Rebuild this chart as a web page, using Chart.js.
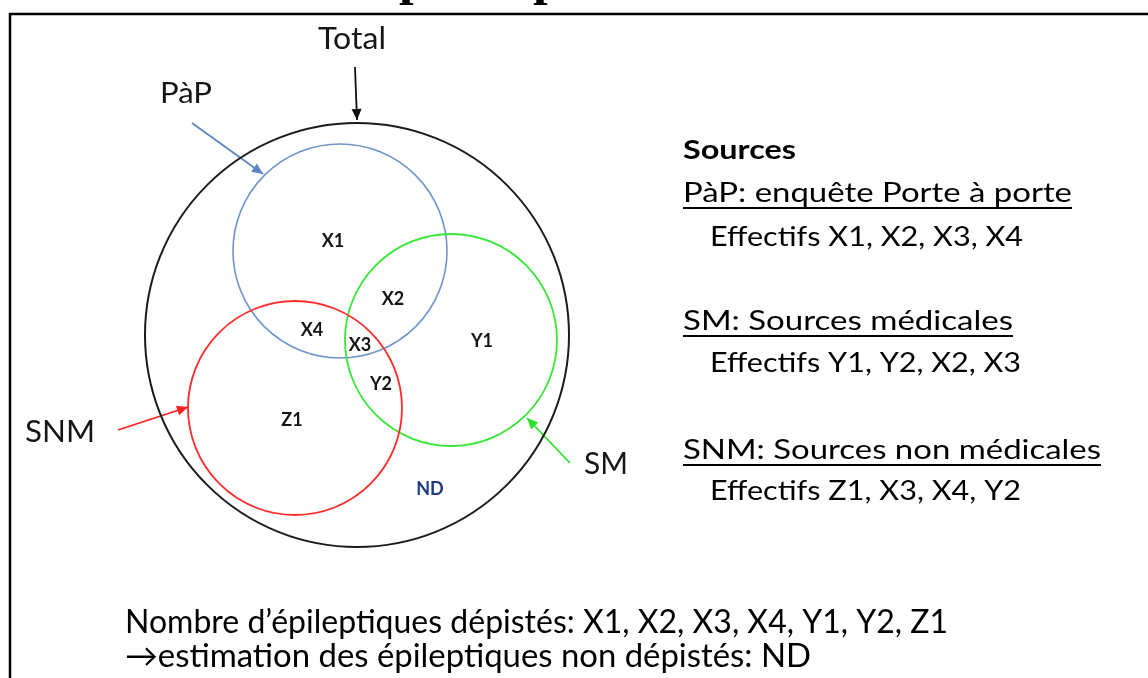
<!DOCTYPE html>
<html>
<head>
<meta charset="utf-8">
<script src="https://cdn.jsdelivr.net/npm/chart.js@4.4.0/dist/chart.umd.min.js"></script>
<style>
  html, body { margin: 0; padding: 0; background: #fff; }
  #wrap { width: 1148px; height: 678px; }
</style>
</head>
<body>
<div id="wrap"><canvas id="vennChart"></canvas></div>
<script>
// circles: whole population, then the three sources
var circleNames = ['Total', 'PàP', 'SM', 'SNM'];
var circleX = [357, 340, 451, 295];
var circleY = [335, 251, 340, 408];
var circleR = [212, 107, 106, 107];

// labels of the regions
var regionNames = ['X1', 'X2', 'X3', 'X4', 'Y1', 'Y2', 'Z1', 'ND'];
var regionX = [333, 393, 360, 312, 482, 381, 292, 430];
var regionY = [241, 299, 345, 330, 341, 384, 420, 489];

// arrows pointing at each circle (same order as circleNames)
var arrowFromX = [355, 192, 570, 118];
var arrowFromY = [67, 123, 463, 430];
var arrowToX = [357, 263, 527, 188];
var arrowToY = [120, 174, 418, 407];

// texts
var titleText = 'Schéma du principe';
var sourcesHeading = 'Sources';
var sourceTitles = ['PàP: enquête Porte à porte', 'SM: Sources médicales', 'SNM: Sources non médicales'];
var sourceCounts = ['Effectifs X1, X2, X3, X4', 'Effectifs Y1, Y2, X2, X3', 'Effectifs Z1, X3, X4, Y2'];
var footLines = ['Nombre d’épileptiques dépistés: X1, X2, X3, X4, Y1, Y2, Z1', '→estimation des épileptiques non dépistés: ND'];

// where the texts go (left x, baseline y, width, cap height)
var calloutBox = [
  { x: 318, base: 49, w: 68, cap: 22 },
  { x: 160, base: 103, w: 52, cap: 21 },
  { x: 584, base: 474, w: 44, cap: 22 },
  { x: 25, base: 442, w: 70, cap: 22 }
];
var headingBox = { x: 683, base: 159, w: 113, cap: 19 };
var titleBoxes = [
  { x: 683, base: 202, w: 389, cap: 20 },
  { x: 683, base: 330, w: 330, cap: 20 },
  { x: 683, base: 459, w: 418, cap: 20 }
];
var countBoxes = [
  { x: 710, base: 246, w: 313, cap: 20 },
  { x: 710, base: 372, w: 311, cap: 20 },
  { x: 710, base: 500, w: 311, cap: 20 }
];
var footBoxes = [
  { x: 125, base: 633, w: 823, cap: 23 },
  { x: 125, base: 667, w: 686, cap: 23 }
];

var circleColors = ['#1c1c1c', '#6f95cb', '#36e636', '#ff2b2b'];
var circleWidths = [2, 1.6, 1.8, 1.8];
var arrowColors = ['#111111', '#5b87c2', '#2ee02e', '#ff1f1f'];
var FONT = 'Lato, "Open Sans", sans-serif';

function toPoints(xs, ys) {
  return xs.map(function (x, i) { return { x: x, y: ys[i] }; });
}

function radiusPx(chart, r) {
  var s = chart.scales.x;
  return s.getPixelForValue(r) - s.getPixelForValue(0);
}

function fitText(c, text, x, base, width, cap, weight, color) {
  var size = cap / 0.7165;
  c.font = weight + ' ' + size + 'px ' + FONT;
  var w = c.measureText(text).width;
  c.save();
  c.translate(x, base);
  c.scale(width / w, 1);
  c.fillStyle = color;
  c.textAlign = 'left';
  c.textBaseline = 'alphabetic';
  c.fillText(text, 0, 0);
  c.restore();
}

var datasets = [{
  label: 'circles',
  data: toPoints(circleX, circleY),
  pointRadius: function (c) { return radiusPx(c.chart, circleR[c.dataIndex]); },
  pointHoverRadius: function (c) { return radiusPx(c.chart, circleR[c.dataIndex]); },
  pointBackgroundColor: 'rgba(0,0,0,0)',
  pointBorderColor: circleColors,
  pointBorderWidth: circleWidths,
  clip: false
}, {
  label: 'regions',
  data: toPoints(regionX, regionY),
  pointRadius: 0,
  clip: false
}];

circleNames.forEach(function (name, i) {
  datasets.push({
    label: 'arrow ' + name,
    data: [{ x: arrowFromX[i], y: arrowFromY[i] }, { x: arrowToX[i], y: arrowToY[i] }],
    showLine: true,
    borderColor: arrowColors[i],
    borderWidth: 1.8,
    pointRadius: 0,
    clip: false
  });
});

var drawing = {
  id: 'drawing',
  beforeDraw: function (chart) {
    var c = chart.ctx;
    var x = chart.scales.x, y = chart.scales.y;
    c.save();
    c.fillStyle = '#ffffff';
    c.fillRect(0, 0, chart.width, chart.height);
    // frame
    c.strokeStyle = '#000';
    c.lineWidth = 2.5;
    c.beginPath();
    c.moveTo(x.getPixelForValue(10), y.getPixelForValue(700));
    c.lineTo(x.getPixelForValue(10), y.getPixelForValue(14));
    c.lineTo(x.getPixelForValue(1160), y.getPixelForValue(14));
    c.stroke();
    // title, cut off by the top of the picture: only the descenders show
    var fam = '"Liberation Serif", serif';
    c.font = 'bold 40px ' + fam;
    var i1 = titleText.indexOf('p');
    var i2 = titleText.indexOf('p', i1 + 1);
    var d = c.measureText(titleText.slice(0, i2)).width - c.measureText(titleText.slice(0, i1)).width;
    var fs = 40 * 134 / d;
    c.font = 'bold ' + fs + 'px ' + fam;
    var start = 399 - c.measureText(titleText.slice(0, i1)).width;
    c.fillStyle = '#000';
    c.textAlign = 'left';
    c.textBaseline = 'alphabetic';
    c.fillText(titleText, start, -6);
    c.restore();
  },
  afterDatasetsDraw: function (chart) {
    var c = chart.ctx;
    c.save();
    // arrow heads
    circleNames.forEach(function (name, i) {
      var pts = chart.getDatasetMeta(2 + i).data;
      var a = pts[0], b = pts[1];
      var ang = Math.atan2(b.y - a.y, b.x - a.x);
      var len = 11, half = 5;
      c.fillStyle = arrowColors[i];
      c.beginPath();
      c.moveTo(b.x, b.y);
      c.lineTo(b.x - len * Math.cos(ang) + half * Math.sin(ang), b.y - len * Math.sin(ang) - half * Math.cos(ang));
      c.lineTo(b.x - len * Math.cos(ang) - half * Math.sin(ang), b.y - len * Math.sin(ang) + half * Math.cos(ang));
      c.closePath();
      c.fill();
    });
    // region labels
    var reg = chart.getDatasetMeta(1).data;
    c.font = 'bold 18px ' + FONT;
    c.textAlign = 'center';
    c.textBaseline = 'middle';
    regionNames.forEach(function (name, i) {
      c.fillStyle = name === 'ND' ? '#1f3b80' : '#141414';
      c.fillText(name, reg[i].x, reg[i].y);
    });
    // callout labels
    circleNames.forEach(function (name, i) {
      var b = calloutBox[i];
      fitText(c, name, b.x, b.base, b.w, b.cap, 'normal', '#161616');
    });
    // sources
    fitText(c, sourcesHeading, headingBox.x, headingBox.base, headingBox.w, headingBox.cap, 'bold', '#000');
    sourceTitles.forEach(function (t, i) {
      var b = titleBoxes[i];
      fitText(c, t, b.x, b.base, b.w, b.cap, 'normal', '#000');
      c.strokeStyle = '#000';
      c.lineWidth = 1.8;
      c.beginPath();
      c.moveTo(b.x, b.base + 6);
      c.lineTo(b.x + b.w, b.base + 6);
      c.stroke();
      var k = countBoxes[i];
      fitText(c, sourceCounts[i], k.x, k.base, k.w, k.cap, 'normal', '#000');
    });
    footLines.forEach(function (t, i) {
      var b = footBoxes[i];
      fitText(c, t, b.x, b.base, b.w, b.cap, 'normal', '#000');
    });
    c.restore();
  }
};

new Chart(document.getElementById('vennChart').getContext('2d'), {
  type: 'scatter',
  data: { datasets: datasets },
  options: {
    responsive: true,
    maintainAspectRatio: false,
    animation: false,
    events: [],
    layout: { padding: 0 },
    plugins: { legend: { display: false }, tooltip: { enabled: false } },
    scales: {
      x: { type: 'linear', min: 0, max: 1148, display: false },
      y: { type: 'linear', min: 0, max: 678, reverse: true, display: false }
    }
  },
  plugins: [drawing]
});
</script>
</body>
</html>
